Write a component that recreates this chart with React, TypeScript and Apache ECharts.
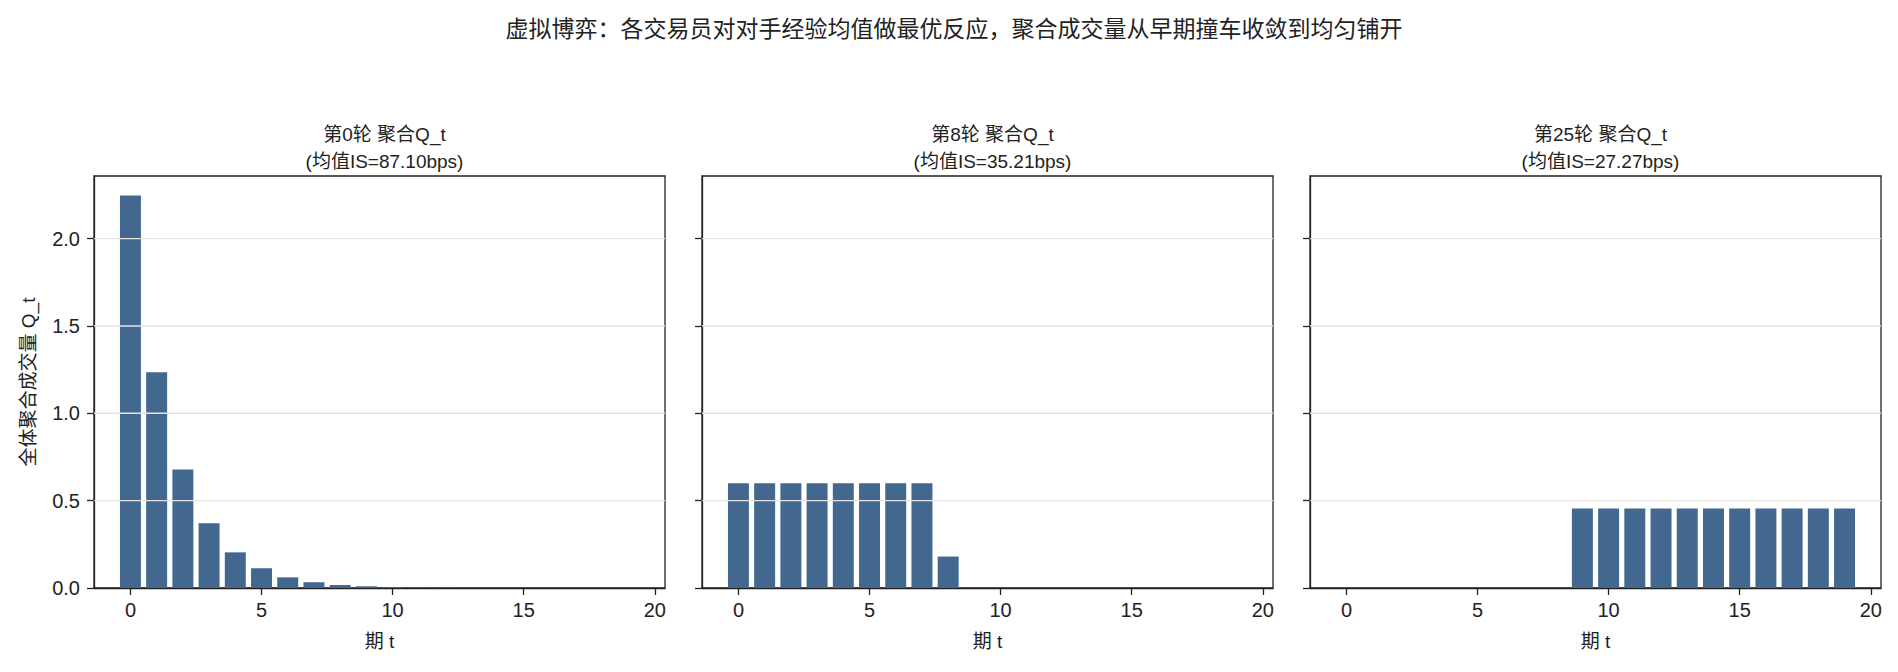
import React, { useEffect, useRef } from "react";
import * as echarts from "echarts";

const periods = Array.from({ length: 20 }, (_, i) => i);
const round0 = [2.246, 1.235, 0.679, 0.37, 0.204, 0.113, 0.061, 0.033, 0.017, 0.01, 0.005, 0.003, 0.0015, 0.0008, 0.0004, 0.0002, 0.0001, 0.00006, 0.00003, 0.00002];
const round8 = [0.6, 0.6, 0.6, 0.6, 0.6, 0.6, 0.6, 0.6, 0.18, 0, 0, 0, 0, 0, 0, 0, 0, 0, 0, 0];
const round25 = [0, 0, 0, 0, 0, 0, 0, 0, 0, 0.4545, 0.4545, 0.4545, 0.4545, 0.4545, 0.4545, 0.4545, 0.4545, 0.4545, 0.4545, 0.4545];
const panelTitles = ["第0轮 聚合Q_t\n(均值IS=87.10bps)", "第8轮 聚合Q_t\n(均值IS=35.21bps)", "第25轮 聚合Q_t\n(均值IS=27.27bps)"];
const supTitle = "虚拟博弈：各交易员对对手经验均值做最优反应，聚合成交量从早期撞车收敛到均匀铺开";
const xTicks = [0, 5, 10, 15, 20];
const yTicks = [0, 0.5, 1, 1.5, 2];
const yGrid = [0.5, 1, 1.5, 2];
const xLabel = "期 t";
const yLabel = "全体聚合成交量 Q_t";

const FONT = "'Liberation Sans', 'Noto Sans CJK SC', sans-serif";
const BAR = "#426890";
const INK = "#222222";
const GRIDC = "#e5e5e5";

export default function App() {
  const ref = useRef<HTMLDivElement>(null);
  useEffect(() => {
    document.body.style.margin = "0";
    const chart = echarts.init(ref.current!, undefined, { renderer: "svg" });
    const all = [round0, round8, round25];
    const ymax = Math.max(...all.flat()) * 1.05;
    const xmin = -0.4 - 0.05 * 19.8;
    const xmax = 19.4 + 0.05 * 19.8;
    const lefts = [94, 702, 1310];
    const grids = lefts.map((l) => ({ left: l, top: 176, width: 571, height: 412, show: true, borderColor: INK, borderWidth: 1.3, outerBoundsMode: "none" }));
    const xAxes = lefts.map((_, i) => ({
      type: "value",
      gridIndex: i,
      min: xmin,
      max: xmax,
      name: xLabel,
      nameLocation: "middle",
      nameGap: 44,
      nameTextStyle: { fontFamily: FONT, fontSize: 19, color: INK },
      axisLine: { show: true, onZero: false, lineStyle: { color: INK, width: 1.3 } },
      axisTick: { show: true, length: 7, lineStyle: { color: INK, width: 1.3 }, customValues: xTicks },
      axisLabel: { fontFamily: FONT, fontSize: 20, color: INK, margin: 12, customValues: xTicks },
      splitLine: { show: false },
    }));
    const yAxes = lefts.map((_, i) => ({
      type: "value",
      gridIndex: i,
      min: 0,
      max: ymax,
      name: i === 0 ? yLabel : "",
      nameLocation: "middle",
      nameGap: 56,
      nameTextStyle: { fontFamily: FONT, fontSize: 19, color: INK },
      axisLine: { show: true, onZero: false, lineStyle: { color: INK, width: 1.3 } },
      axisTick: { show: true, length: 7, lineStyle: { color: INK, width: 1.3 }, customValues: yTicks },
      axisLabel: { show: i === 0, fontFamily: FONT, fontSize: 20, color: INK, margin: 14, customValues: yTicks, formatter: (v: number) => v.toFixed(1) },
      splitLine: { show: false },
    }));
    const renderItem = (params: any, api: any) => {
      const kind = api.value(2);
      if (kind === 0) {
        const x = api.value(0);
        const y = api.value(1);
        const top = api.coord([x, y]);
        const base = api.coord([x, 0]);
        const w = api.size([0.8, 0])[0];
        return {
          type: "rect",
          z2: 1,
          shape: { x: top[0] - w / 2, y: top[1], width: w, height: base[1] - top[1] },
          style: { fill: BAR },
        };
      }
      const v = api.value(1);
      const a = api.coord([xmin, v]);
      const b = api.coord([xmax, v]);
      return {
        type: "line",
        z2: 50,
        silent: true,
        shape: { x1: a[0], y1: a[1], x2: b[0], y2: b[1] },
        style: { stroke: GRIDC, lineWidth: 1.4 },
      };
    };
    const series: any[] = all.map((vals, i) => ({
      type: "custom",
      xAxisIndex: i,
      yAxisIndex: i,
      clip: true,
      renderItem,
      encode: { x: 0, y: 1 },
      data: [
        ...periods.map((t, k) => [t, vals[k], 0]),
        ...yGrid.map((v) => [0, v, 1]),
      ],
    }));
    const titles: any[] = [
      { text: supTitle, left: 949, top: 12, textAlign: "center", textStyle: { fontFamily: FONT, fontSize: 23, fontWeight: "normal", color: INK } },
      ...lefts.map((l, i) => ({
        text: panelTitles[i],
        left: l + 285.5,
        top: 116,
        textAlign: "center",
        textStyle: { fontFamily: FONT, fontSize: 19, fontWeight: "normal", color: INK, lineHeight: 27, align: "center" },
      })),
    ];
    chart.setOption({
      animation: false,
      backgroundColor: "#ffffff",
      title: titles,
      grid: grids,
      xAxis: xAxes,
      yAxis: yAxes,
      series,
    });
    return () => chart.dispose();
  }, []);
  return <div ref={ref} style={{ width: 1898, height: 672 }} />;
}
